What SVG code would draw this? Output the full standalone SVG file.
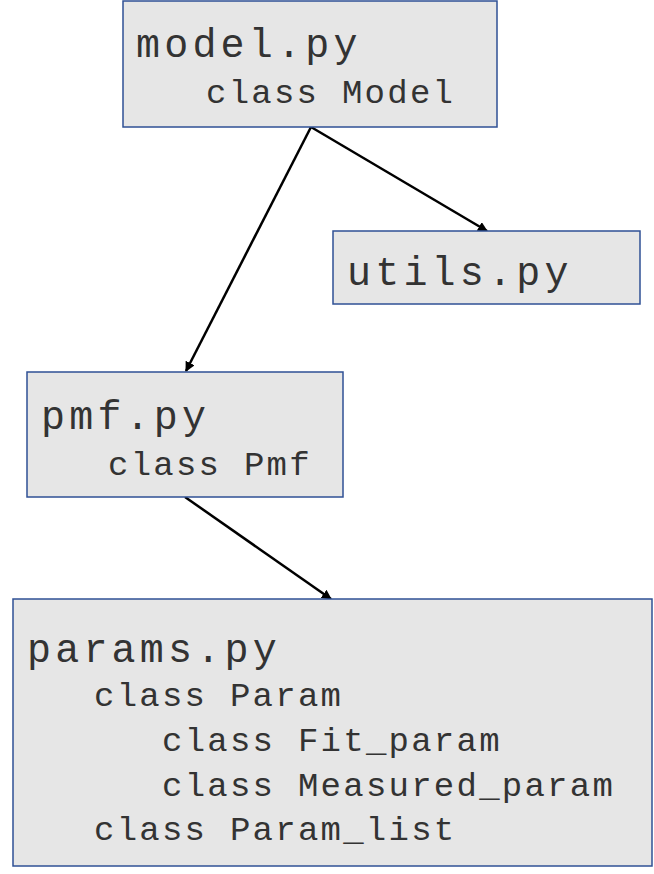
<svg xmlns="http://www.w3.org/2000/svg" width="654" height="874" viewBox="0 0 654 874">
<defs>
<marker id="ah" markerWidth="10" markerHeight="10" refX="9" refY="5" orient="auto" markerUnits="userSpaceOnUse" viewBox="0 0 10 10">
<path d="M0,0 L10,5 L0,10 z" fill="#000"/>
</marker>
<style>
.box{fill:#e6e6e6;stroke:#2f5095;stroke-width:1.5}
.h{font-family:"Liberation Mono","Courier New",monospace;font-size:40px;letter-spacing:4.2px;fill:#333}
.c{font-family:"Liberation Mono","Courier New",monospace;font-size:34px;letter-spacing:2.25px;fill:#333}
.con{stroke:#000;stroke-width:2.5;fill:none;marker-end:url(#ah)}
</style>
</defs>
<rect width="654" height="874" fill="#fff"/>
<g id="connectors">
<line class="con" x1="311" y1="127" x2="186" y2="371"/>
<line class="con" x1="311" y1="127" x2="487" y2="231"/>
<line class="con" x1="185" y1="497" x2="331" y2="599"/>
</g>
<g id="model">
<rect class="box" x="123" y="1" width="374" height="126"/>
<text class="h" x="136" y="57">model.py</text>
<text class="c" x="206" y="103">class Model</text>
</g>
<g id="utils">
<rect class="box" x="333" y="231" width="307" height="73"/>
<text class="h" x="347" y="285">utils.py</text>
</g>
<g id="pmf">
<rect class="box" x="27" y="372" width="316" height="125"/>
<text class="h" x="41" y="429">pmf.py</text>
<text class="c" x="108" y="475">class Pmf</text>
</g>
<g id="params">
<rect class="box" x="13" y="599" width="639" height="267"/>
<text class="h" x="27" y="662">params.py</text>
<text class="c" x="94" y="706">class Param</text>
<text class="c" x="162" y="751">class Fit_param</text>
<text class="c" x="162" y="796">class Measured_param</text>
<text class="c" x="94" y="840">class Param_list</text>
</g>
</svg>
